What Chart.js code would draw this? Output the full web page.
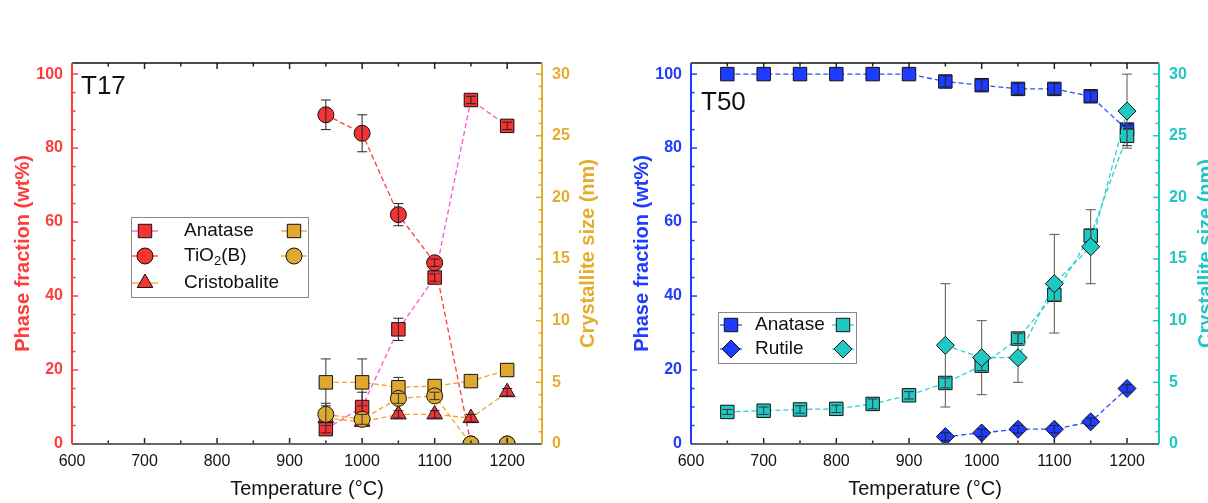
<!DOCTYPE html>
<html>
<head>
<meta charset="utf-8">
<script src="https://cdn.jsdelivr.net/npm/chart.js@4.4.1/dist/chart.umd.min.js"></script>
<style>
  html, body { margin: 0; padding: 0; background: #fff; }
  #wrap { position: relative; width: 1208px; height: 503px; overflow: hidden; }
  canvas { position: absolute; top: 0; }
  #c17 { left: 0; }
  #c50 { left: 604px; }
</style>
</head>
<body>
<div id="wrap">
  <canvas id="c17" width="604" height="503"></canvas>
  <canvas id="c50" width="604" height="503"></canvas>
</div>
<script>
const FONT = "'Liberation Sans', Arial, sans-serif"

// T17: phase fraction (wt%) and crystallite size (nm)
const temps17 = [950, 1000, 1050, 1100, 1150, 1200]
const t17Anatase = [4, 10, 31, 45, 93, 86]
const t17AnataseErr = [1, 4, 3, 1, 1, 1]
const t17TiO2B = [89, 84, 62, 49, 0, 0]
const t17TiO2BErr = [4, 5, 3, 1, 0, 0]
const t17Cristobalite = [7, 6, 8, 8, 7, 14]
const t17CristobaliteErr = [1, 1, 1, 1, 1, 1]
const t17AnataseSize = [5.0, 5.0, 4.6, 4.7, 5.1, 6.0]
const t17AnataseSizeErr = [1.9, 1.9, 0.8, 0.3, 0.4, 0.4]
const t17TiO2BSize = [2.4, 2.0, 3.7, 3.9, 0, 0]
const t17TiO2BSizeErr = [0.9, 0.4, 0.4, 0.3, 0, 0]

// T50
const temps50 = [650, 700, 750, 800, 850, 900, 950, 1000, 1050, 1100, 1150, 1200]
const t50Anatase = [100, 100, 100, 100, 100, 100, 98, 97, 96, 96, 94, 85]
const t50AnataseErr = [0, 0, 0, 0, 0, 0, 1.5, 1.5, 1.5, 1.5, 1.5, 1.5]
const temps50Rutile = [950, 1000, 1050, 1100, 1150, 1200]
const t50Rutile = [2, 3, 4, 4, 6, 15]
const t50RutileErr = [1, 1, 1, 1, 1, 1]
const t50AnataseSize = [2.6, 2.7, 2.8, 2.85, 3.25, 3.95, 4.95, 6.35, 8.55, 12.1, 16.9, 25.0]
const t50AnataseSizeErr = [0.2, 0.3, 0.3, 0.3, 0.4, 0.3, 0.4, 0.4, 0.4, 0.5, 0.5, 0.8]
const t50RutileSize = [8, 7, 7, 13, 16, 27]
const t50RutileSizeErr = [5, 3, 2, 4, 3, 3]

const xTicks = [600, 700, 800, 900, 1000, 1100, 1200]

const RED = '#f43434'
const GOLD = '#dfa82e'
const BLUE = '#1e3cff'
const TEAL = '#1fc8c2'

function series(xs, ys, errs, opts) {
  return Object.assign({
    data: xs.map((x, i) => ({ x, y: ys[i] })),
    errors: errs,
    showLine: true,
    borderDash: [5, 3],
    borderWidth: 1.3,
    pointBorderColor: '#111',
    pointBorderWidth: 1,
    pointHoverRadius: opts.pointRadius,
    clip: 0,
  }, opts)
}

function drawErrors(chart, meta, onTop) {
  const ds = chart.data.datasets[meta.index]
  if (!ds.errors || !!ds.errTop !== onTop) return
  const ys = chart.scales[meta.yAxisID]
  const a = chart.chartArea
  const ctx = chart.ctx
  ctx.save()
  ctx.beginPath()
  ctx.rect(a.left, a.top, a.right - a.left, a.bottom - a.top)
  ctx.clip()
  ctx.strokeStyle = ds.errColor || '#222'
  ctx.lineWidth = 1
  meta.data.forEach((pt, i) => {
    const e = ds.errors[i]
    if (!e) return
    const v = ds.data[i].y
    const y1 = ys.getPixelForValue(v + e)
    const y2 = ys.getPixelForValue(v - e)
    const x = pt.x
    ctx.beginPath()
    ctx.moveTo(x, y1); ctx.lineTo(x, y2)
    ctx.moveTo(x - 5, y1); ctx.lineTo(x + 5, y1)
    ctx.moveTo(x - 5, y2); ctx.lineTo(x + 5, y2)
    ctx.stroke()
  })
  ctx.restore()
}

function line(ctx, x1, y1, x2, y2) {
  ctx.beginPath(); ctx.moveTo(x1, y1); ctx.lineTo(x2, y2); ctx.stroke()
}

function drawSymbol(ctx, sym, x, y, half) {
  ctx.save()
  ctx.strokeStyle = sym.line
  ctx.lineWidth = 1.3
  line(ctx, x - half, y, x + half, y)
  ctx.fillStyle = sym.fill
  ctx.strokeStyle = '#111'
  ctx.lineWidth = 1
  Chart.helpers.drawPoint(ctx, { pointStyle: sym.style, radius: sym.radius, borderWidth: 1, rotation: 0 }, x, y)
  ctx.restore()
}

function makeDecor(cfg) {
  return {
    id: 'decor',
    beforeDatasetDraw(chart, args) { drawErrors(chart, args.meta, false) },
    afterDatasetDraw(chart, args) { drawErrors(chart, args.meta, true) },
    afterDraw(chart) {
      const ctx = chart.ctx
      const { left, right, top, bottom } = chart.chartArea
      const xs = chart.scales.x, yl = chart.scales.y, yr = chart.scales.y1
      ctx.save()

      // inward tick marks
      ctx.lineWidth = 1.5
      ctx.strokeStyle = '#222'
      for (let v = 600; v <= xs.max; v += 50) {
        const px = xs.getPixelForValue(v)
        const len = v % 100 === 0 ? 6 : 3.5
        line(ctx, px, bottom, px, bottom - len)
        line(ctx, px, top, px, top + len)
      }
      ctx.strokeStyle = cfg.leftColor
      for (let v = 0; v <= 100; v += 5) {
        const py = yl.getPixelForValue(v)
        line(ctx, left, py, left + (v % 20 === 0 ? 6 : 3.5), py)
      }
      ctx.strokeStyle = cfg.rightColor
      for (let v = 0; v <= 30; v += 1) {
        const py = yr.getPixelForValue(v)
        line(ctx, right, py, right - (v % 5 === 0 ? 6 : 3.5), py)
      }

      // frame
      ctx.lineWidth = 1.5
      ctx.strokeStyle = '#111'
      line(ctx, left, top, right, top)
      ctx.lineWidth = 2
      ctx.strokeStyle = '#666'
      line(ctx, left, bottom, right, bottom)
      ctx.strokeStyle = cfg.leftColor
      line(ctx, left, top, left, bottom)
      ctx.strokeStyle = cfg.rightColor
      line(ctx, right, top, right, bottom)

      // axis titles
      const midY = (top + bottom) / 2
      ctx.textAlign = 'center'
      ctx.textBaseline = 'middle'
      ctx.font = `bold 20px ${FONT}`
      ;[[cfg.leftTitleX, cfg.leftColor, 'Phase fraction (wt%)'],
        [cfg.rightTitleX, cfg.rightColor, 'Crystallite size (nm)']].forEach(([x, c, t]) => {
        ctx.save()
        ctx.translate(x, midY)
        ctx.rotate(-Math.PI / 2)
        ctx.fillStyle = c
        ctx.fillText(t, 0, 0)
        ctx.restore()
      })
      ctx.font = `20px ${FONT}`
      ctx.fillStyle = '#111'
      ctx.fillText('Temperature (°C)', (left + right) / 2, 489)

      // sample name
      ctx.textAlign = 'left'
      ctx.textBaseline = 'alphabetic'
      ctx.font = `26px ${FONT}`
      ctx.fillText(cfg.sample, cfg.sampleX, cfg.sampleY)

      // legend
      const lg = cfg.legend
      ctx.fillStyle = '#fff'
      ctx.fillRect(lg.box[0], lg.box[1], lg.box[2], lg.box[3])
      ctx.strokeStyle = '#8a8a8a'
      ctx.lineWidth = 1
      ctx.strokeRect(lg.box[0] + 0.5, lg.box[1] + 0.5, lg.box[2], lg.box[3])
      lg.rows.forEach((r) => {
        drawSymbol(ctx, r.a, lg.col1, r.y, lg.half)
        if (r.b) drawSymbol(ctx, r.b, lg.col2, r.y, lg.half)
        ctx.fillStyle = '#111'
        ctx.textBaseline = 'middle'
        ctx.textAlign = 'left'
        ctx.font = `19px ${FONT}`
        if (r.sub) {
          const [pre, sub, post] = r.sub
          let x = lg.textX
          ctx.fillText(pre, x, r.y)
          x += ctx.measureText(pre).width
          ctx.font = `13px ${FONT}`
          ctx.fillText(sub, x, r.y + 5)
          x += ctx.measureText(sub).width
          ctx.font = `19px ${FONT}`
          ctx.fillText(post, x, r.y)
        } else {
          ctx.fillText(r.text, lg.textX, r.y)
        }
      })
      ctx.restore()
    },
  }
}

function makeChart(id, datasets, xMax, leftW, rightW, leftColor, rightColor, decorCfg) {
  const tickFont = { family: FONT, size: 16, weight: 'bold' }
  return new Chart(document.getElementById(id), {
    type: 'scatter',
    data: { datasets },
    options: {
      responsive: false,
      animation: false,
      devicePixelRatio: 1,
      layout: { padding: { top: 63, left: 0, right: 0, bottom: 0 } },
      plugins: { legend: { display: false }, tooltip: { enabled: false } },
      events: [],
      scales: {
        x: {
          type: 'linear', min: 600, max: xMax,
          afterFit: (s) => { s.height = 59 },
          afterBuildTicks: (s) => { s.ticks = xTicks.map((v) => ({ value: v })) },
          grid: { display: false, drawTicks: false },
          border: { display: false },
          ticks: {
            autoSkip: false, maxRotation: 0, padding: 8, color: '#111',
            font: { family: FONT, size: 16 },
            callback: (v) => String(v),
          },
        },
        y: {
          position: 'left', min: 0, max: 103,
          afterFit: (s) => { s.width = leftW },
          grid: { display: false, drawTicks: false },
          border: { display: false },
          ticks: { stepSize: 20, includeBounds: false, padding: 9, color: leftColor, font: tickFont },
        },
        y1: {
          position: 'right', min: 0, max: 30.9,
          afterFit: (s) => { s.width = rightW },
          grid: { display: false, drawTicks: false },
          border: { display: false },
          ticks: { stepSize: 5, includeBounds: false, padding: 10, color: rightColor, font: tickFont },
        },
      },
    },
    plugins: [makeDecor(Object.assign({ leftColor, rightColor }, decorCfg))],
  })
}

// ---- T17 ----
const sym17 = {
  anatase: { style: 'rect', radius: 9.5, fill: RED, line: '#ff55cc' },
  tio2b: { style: 'circle', radius: 8, fill: RED, line: '#ff3a3a' },
  cristo: { style: 'triangle', radius: 9, fill: RED, line: '#f5a030' },
  anataseSize: { style: 'rect', radius: 9.5, fill: GOLD, line: '#f2a22c' },
  tio2bSize: { style: 'circle', radius: 8, fill: GOLD, line: '#f2a22c' },
}

function styleOf(sym) {
  return {
    pointStyle: sym.style, pointRadius: sym.radius,
    pointBackgroundColor: sym.fill, borderColor: sym.line,
  }
}

makeChart('c17', [
  series(temps17, t17Anatase, t17AnataseErr, Object.assign(styleOf(sym17.anatase), { yAxisID: 'y', order: 5, errTop: true })),
  series(temps17, t17TiO2B, t17TiO2BErr, Object.assign(styleOf(sym17.tio2b), { yAxisID: 'y', order: 4, errTop: true })),
  series(temps17, t17Cristobalite, t17CristobaliteErr, Object.assign(styleOf(sym17.cristo), { yAxisID: 'y', order: 3, errTop: true })),
  series(temps17, t17AnataseSize, t17AnataseSizeErr, Object.assign(styleOf(sym17.anataseSize), { yAxisID: 'y1', order: 2, errTop: false, errColor: '#333' })),
  series(temps17, t17TiO2BSize, t17TiO2BSizeErr, Object.assign(styleOf(sym17.tio2bSize), { yAxisID: 'y1', order: 1, errTop: true, errColor: '#333' })),
], 1248, 72, 62, '#ff3b3b', '#e6ac2c', {
  leftTitleX: 23, rightTitleX: 588,
  sample: 'T17', sampleX: 81, sampleY: 94,
  legend: {
    box: [131, 217, 177, 80], col1: 145, col2: 294, textX: 184, half: 13,
    rows: [
      { y: 231, text: 'Anatase', a: sym17.anatase, b: sym17.anataseSize },
      { y: 256, sub: ['TiO', '2', '(B)'], a: sym17.tio2b, b: sym17.tio2bSize },
      { y: 283, text: 'Cristobalite', a: sym17.cristo },
    ],
  },
})

// ---- T50 ----
const sym50 = {
  anatase: { style: 'rect', radius: 9.5, fill: BLUE, line: '#2f4cff' },
  rutile: { style: 'rectRot', radius: 9, fill: BLUE, line: '#2f4cff' },
  anataseSize: { style: 'rect', radius: 9.5, fill: TEAL, line: '#2fd0d0' },
  rutileSize: { style: 'rectRot', radius: 9, fill: TEAL, line: '#2fd0d0' },
}

makeChart('c50', [
  series(temps50, t50Anatase, t50AnataseErr, Object.assign(styleOf(sym50.anatase), { yAxisID: 'y', order: 4, errTop: true })),
  series(temps50Rutile, t50Rutile, t50RutileErr, Object.assign(styleOf(sym50.rutile), { yAxisID: 'y', order: 3, errTop: true })),
  series(temps50, t50AnataseSize, t50AnataseSizeErr, Object.assign(styleOf(sym50.anataseSize), { yAxisID: 'y1', order: 2, errTop: true, errColor: '#333' })),
  series(temps50Rutile, t50RutileSize, t50RutileSizeErr, Object.assign(styleOf(sym50.rutileSize), { yAxisID: 'y1', order: 1, errTop: false, errColor: '#555' })),
], 1244, 87, 49, '#1f3cff', '#1fc6c6', {
  leftTitleX: 38, rightTitleX: 602,
  sample: 'T50', sampleX: 97, sampleY: 110,
  legend: {
    box: [114, 312, 138, 51], col1: 127, col2: 239, textX: 151, half: 11,
    rows: [
      { y: 325, text: 'Anatase', a: sym50.anatase, b: sym50.anataseSize },
      { y: 349, text: 'Rutile', a: sym50.rutile, b: sym50.rutileSize },
    ],
  },
})
</script>
</body>
</html>
